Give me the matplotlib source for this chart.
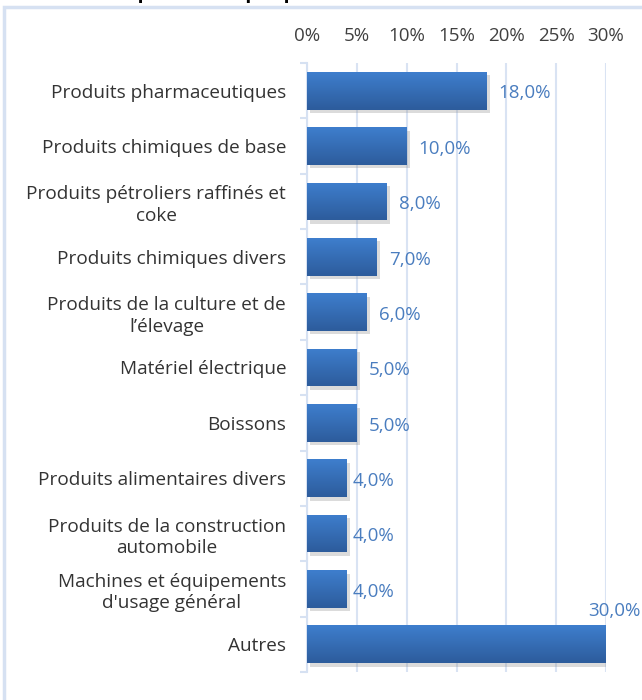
import matplotlib
matplotlib.use('Agg')
import matplotlib.pyplot as plt
import matplotlib.patches as mpatches
import matplotlib.patheffects as pe
import numpy as np
from matplotlib.colors import LinearSegmentedColormap

categories = ['Produits pharmaceutiques', 'Produits chimiques de base',
              'Produits pétroliers raffinés et\ncoke', 'Produits chimiques divers',
              'Produits de la culture et de\nl\u2019élevage', 'Matériel électrique', 'Boissons',
              'Produits alimentaires divers', 'Produits de la construction\nautomobile',
              "Machines et équipements\nd'usage général", 'Autres']
shares = [18.0, 10.0, 8.0, 7.0, 6.0, 5.0, 5.0, 4.0, 4.0, 4.0, 30.0]
value_labels = ['18,0%', '10,0%', '8,0%', '7,0%', '6,0%', '5,0%', '5,0%', '4,0%', '4,0%', '4,0%', '30,0%']
xticks = [0, 5, 10, 15, 20, 25, 30]

plt.rcParams['font.family'] = ['Open Sans', 'DejaVu Sans']

fig = plt.figure(figsize=(6.42, 7.0), dpi=100)
ax = fig.add_axes([307 / 642, 1 - 672 / 700, 299 / 642, 609 / 700])

# outer frame (cut by the image edges)
fig.patches.append(mpatches.Rectangle((4 / 642, -0.2), 1.2, 1.2 - 7 / 700, transform=fig.transFigure,
                                      fill=False, edgecolor='#d6e1f2', linewidth=2.5))
# title, mostly cropped away
fig.text(112 / 642, 1 + 2 / 700, 'Importations par produit', fontsize=14, fontweight='bold',
         va='baseline', ha='left', color='black')

n = len(categories)
ypos = np.arange(n)
bars = ax.barh(ypos, shares, height=0.68, color='#3567b0', zorder=3)

grad = LinearSegmentedColormap.from_list('g', ['#3e7ecd', '#2d5c9c'])
for b in bars:
    b.set_path_effects([pe.SimplePatchShadow(offset=(2.5, -2.5), shadow_rgbFace='#8a8a8a', alpha=0.3),
                        pe.Normal()])
    x0, y0 = b.get_x(), b.get_y()
    w, h = b.get_width(), b.get_height()
    im = ax.imshow(np.linspace(0, 1, 64).reshape(-1, 1), cmap=grad, aspect='auto',
                   extent=[x0, x0 + w, y0 + h, y0], origin='upper', zorder=4)
    im.set_clip_path(b)

for i, (v, lab) in enumerate(zip(shares, value_labels)):
    if v >= 30:
        ax.text(v + 0.8, i - 0.6, lab, ha='center', va='center', color='#4a7dbf', fontsize=13.5,
                clip_on=False)
    else:
        off = 0.6 if v <= 4 else 1.2
        ax.text(v + off, i + 0.05, lab, ha='left', va='center', color='#4a7dbf', fontsize=13.5)

ax.set_xlim(0, 30)
ax.set_ylim(n - 0.5, -0.5)
ax.set_xticks(xticks)
ax.set_xticklabels([f'{t}%' for t in xticks])
ax.xaxis.tick_top()
ax.tick_params(axis='x', length=0, pad=13, labelsize=13.5, labelcolor='#404040')
ax.set_yticks(ypos)
ax.set_yticklabels(categories, fontsize=13.7, color='#333333', multialignment='center')
for t in ax.get_yticklabels():
    t.set_linespacing(1.25)
ax.tick_params(axis='y', length=0, pad=15)
ax.set_yticks(np.arange(-0.5, n, 1), minor=True)
ax.tick_params(axis='y', which='minor', length=5, color='#d6e1f2', width=1.5)

ax.grid(axis='x', color='#d9e3f3', linewidth=1.5, zorder=0)
ax.set_axisbelow(True)
for s in ['top', 'right', 'bottom']:
    ax.spines[s].set_visible(False)
ax.spines['left'].set_color('#d6e1f2')
ax.spines['left'].set_linewidth(1.5)

plt.savefig('out.png', dpi=100)
